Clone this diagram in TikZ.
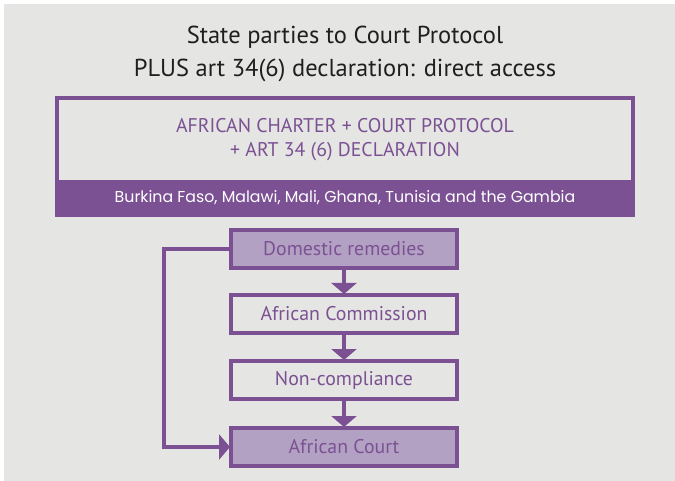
\documentclass[tikz,border=0pt]{standalone}
\usepackage{fontspec}
\setmainfont{PT Sans}
\newfontfamily\barfont{Poppins}
\usetikzlibrary{arrows.meta}
\definecolor{panel}{HTML}{E5E5E3}
\definecolor{plum}{HTML}{7B5193}
\definecolor{lilac}{HTML}{B3A1C3}
\tikzset{
  flowbox/.style={draw=plum, line width=4pt, minimum width=226pt, minimum height=38pt,
    inner sep=0pt, text=plum, font=\fontsize{19.8}{22}\selectfont},
  keybox/.style={flowbox, fill=lilac},
  plainbox/.style={flowbox},
  flowarrow/.style={draw=plum, line width=4pt,
    -{Triangle[width=25pt,length=11pt]}, shorten >=-1pt},
}
\begin{document}
\begin{tikzpicture}[x=1pt,y=-1pt]
  \useasboundingbox (0,0) rectangle (675,481);
  \fill[white] (0,0) rectangle (675,481);
  \fill[panel] (4,4) rectangle (675,481);

  % heading
  \node[font=\fontsize{24.5}{33}\selectfont, text=black!88, align=center] (title) at (345,54)
    {State parties to Court Protocol\\PLUS art 34(6) declaration: direct access};

  % instrument box with country bar
  \fill[plum] (57,180) rectangle (633,215);
  \draw[plum, line width=4pt] (57,98) rectangle (633,215);
  \node[text=plum, font=\fontsize{19.8}{24}\selectfont, align=center] (instr) at (345,140)
    {AFRICAN CHARTER + COURT PROTOCOL\\+ ART 34 (6) DECLARATION};
  \node[text=white, font=\barfont\fontsize{15.8}{18}\selectfont] (states) at (345,198)
    {Burkina Faso, Malawi, Mali, Ghana, Tunisia and the Gambia};

  % procedural path
  \node[keybox]   (dom)  at (344,249) {Domestic remedies};
  \node[plainbox] (com)  at (344,314) {African Commission};
  \node[plainbox] (non)  at (344,380) {Non-compliance};
  \node[keybox]   (court) at (344,447) {African Court};

  \draw[flowarrow] (dom) -- (com);
  \draw[flowarrow] (com) -- (non);
  \draw[flowarrow] (non) -- (court);
  \coordinate (bend) at (164,249);
  \draw[flowarrow] (dom.west) -- (bend) |- (court.west);
\end{tikzpicture}
\end{document}
